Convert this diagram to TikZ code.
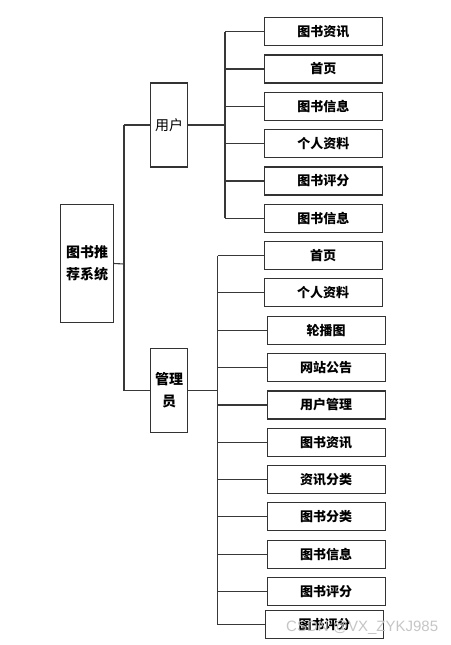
\documentclass[tikz,border=0pt]{standalone}
\usepackage{fontspec}
\newfontfamily\cjk{Noto Sans CJK SC}
\newfontfamily\wm{Liberation Sans}
\begin{document}
\begin{tikzpicture}[x=1pt,y=-1pt,
  line/.style={draw=black!78,line width=1.1pt},
  box/.style={draw=black!80,line width=1.1pt,fill=white,inner sep=0pt,align=center},
  leaf/.style={box,minimum width=118pt,minimum height=28pt,font=\cjk\bfseries\fontsize{13}{14}\selectfont},
  mid/.style={box,minimum width=37.5pt,minimum height=84pt,font=\cjk\fontsize{14}{19}\selectfont},
  rootbox/.style={box,minimum width=52.5pt,minimum height=118pt,font=\cjk\bfseries\fontsize{14}{22}\selectfont}]
\useasboundingbox (0,0) rectangle (450,645);
% root and middle
\node[rootbox] (root) at (87,263.5) {图书推\\荐系统};
\node[mid] (user) at (169,125) {用户};
\node[mid,font=\cjk\bfseries\fontsize{14}{22}\selectfont] (admin) at (169,390.5) {管理\\员};
% user leaves
\node[leaf] (u1) at (323.3,31.5) {图书资讯};
\node[leaf] (u2) at (323.3,69) {首页};
\node[leaf] (u3) at (323.3,106.2) {图书信息};
\node[leaf] (u4) at (323.3,143.5) {个人资料};
\node[leaf] (u5) at (323.3,181) {图书评分};
\node[leaf] (u6) at (323.3,218.3) {图书信息};
% admin leaves
\node[leaf] (a1) at (323.2,255.9) {首页};
\node[leaf] (a2) at (323.2,292.9) {个人资料};
\node[leaf] (a3) at (326.2,330.2) {轮播图};
\node[leaf] (a4) at (326.2,367.5) {网站公告};
\node[leaf] (a5) at (326.2,405) {用户管理};
\node[leaf] (a6) at (326.2,442.2) {图书资讯};
\node[leaf] (a7) at (326.2,479.5) {资讯分类};
\node[leaf] (a8) at (326.2,516.9) {图书分类};
\node[leaf] (a9) at (326.2,554.2) {图书信息};
\node[leaf] (a10) at (326.2,591.5) {图书评分};
\node[leaf,minimum height=28.4pt] (a11) at (324.5,624.5) {图书评分};
% trunk coordinates
\coordinate (rt) at (124,264);
\coordinate (ut) at (225,125);
\coordinate (at) at (217.7,390.5);
% root connectors
\draw[line] (root.east) -- (rt);
\draw[line] (rt |- user.west) -- (rt |- admin.west);
\draw[line] (rt |- user.west) -- (user.west);
\draw[line] (rt |- admin.west) -- (admin.west);
% user connectors
\draw[line] (user.east) -- (ut);
\draw[line] (ut |- u1.west) -- (ut |- u6.west);
\foreach \n in {u1,u2,u3,u4,u5,u6}{\draw[line] (ut |- \n.west) -- (\n.west);}
% admin connectors
\draw[line] (admin.east) -- (at);
\draw[line] (at |- a1.west) -- (at |- a11.west);
\foreach \n in {a1,a2,a3,a4,a5,a6,a7,a8,a9,a10,a11}{\draw[line] (at |- \n.west) -- (\n.west);}
% watermark
\node[text=black!25,font=\wm\fontsize{15}{15}\selectfont,anchor=west,inner sep=0pt,opacity=0.9] (wmark) at (286,628) {CSDN @VX\_ZYKJ985};
\end{tikzpicture}
\end{document}
